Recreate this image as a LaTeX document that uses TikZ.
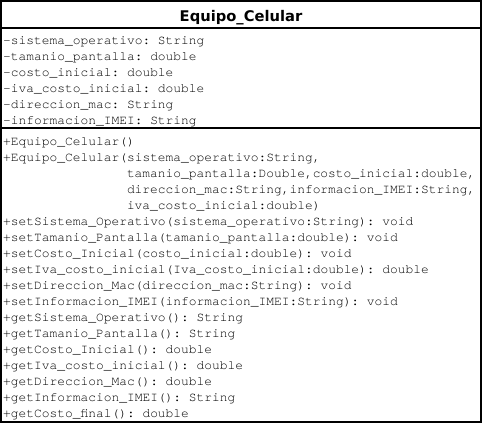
\documentclass[tikz,border=0pt]{standalone}
\usepackage{fontspec}
\setmainfont{DejaVu Sans}
\setmonofont{texgyrecursor-regular.otf}
\begin{document}
\begin{tikzpicture}[x=1pt,y=-1pt,
    member/.style={anchor=base west,inner sep=0pt,font=\fontsize{12.9}{16}\selectfont\ttfamily},
    rule/.style={line width=2pt}]
  \useasboundingbox (0,0) rectangle (483,424);
  \draw
    (1,1) coordinate (nw)
    (481,422) coordinate (se)
    (1,28) coordinate (hw)
    (481,28) coordinate (he)
    (1,128) coordinate (sw)
    (481,128) coordinate (sE);
  \draw[rule] (nw) rectangle (se);
  \draw[rule] (hw) -- (he);
  \draw[rule] (sw) -- (sE);
  \node[anchor=base,inner sep=0pt,font=\fontsize{14.7}{17}\selectfont\bfseries] (title) at (241,21) {Equipo\_Celular};
  % atributos
  \node[member] (a1) at (3,44) {-sistema\_operativo: String};
  \node[member] (a2) at (3,60) {-tamanio\_pantalla: double};
  \node[member] (a3) at (3,76) {-costo\_inicial: double};
  \node[member] (a4) at (3,92) {-iva\_costo\_inicial: double};
  \node[member] (a5) at (3,108) {-direccion\_mac: String};
  \node[member] (a6) at (3,124) {-informacion\_IMEI: String};
  % metodos
  \node[member] (m1) at (3,145) {+Equipo\_Celular()};
  \node[member] (m2) at (3,161) {+Equipo\_Celular(sistema\_operativo:String,};
  \node[member] (m3) at (126.8,177) {tamanio\_pantalla:Double,costo\_inicial:double,};
  \node[member] (m4) at (126.8,193) {direccion\_mac:String,informacion\_IMEI:String,};
  \node[member] (m5) at (126.8,209) {iva\_costo\_inicial:double)};
  \node[member] (m6) at (3,225) {+setSistema\_Operativo(sistema\_operativo:String): void};
  \node[member] (m7) at (3,241) {+setTamanio\_Pantalla(tamanio\_pantalla:double): void};
  \node[member] (m8) at (3,257) {+setCosto\_Inicial(costo\_inicial:double): void};
  \node[member] (m9) at (3,273) {+setIva\_costo\_inicial(Iva\_costo\_inicial:double): double};
  \node[member] (m10) at (3,289) {+setDireccion\_Mac(direccion\_mac:String): void};
  \node[member] (m11) at (3,305) {+setInformacion\_IMEI(informacion\_IMEI:String): void};
  \node[member] (m12) at (3,321) {+getSistema\_Operativo(): String};
  \node[member] (m13) at (3,337) {+getTamanio\_Pantalla(): String};
  \node[member] (m14) at (3,353) {+getCosto\_Inicial(): double};
  \node[member] (m15) at (3,369) {+getIva\_costo\_inicial(): double};
  \node[member] (m16) at (3,385) {+getDireccion\_Mac(): double};
  \node[member] (m17) at (3,401) {+getInformacion\_IMEI(): String};
  \node[member] (m18) at (3,417) {+getCosto\_final(): double};
\end{tikzpicture}
\end{document}
